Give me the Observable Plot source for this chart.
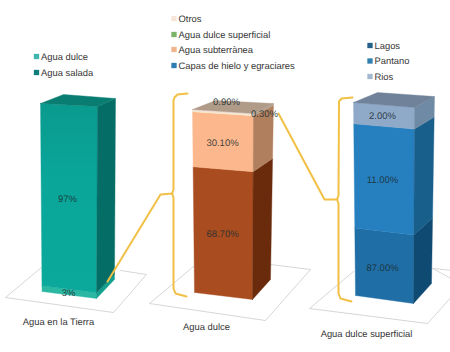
<!DOCTYPE html>
<html><head><meta charset="utf-8">
<style>html,body{margin:0;padding:0;background:#fff}svg{display:block}text{text-rendering:geometricPrecision}</style>
<script src="https://cdn.jsdelivr.net/npm/d3@7"></script>
<script src="https://cdn.jsdelivr.net/npm/@observablehq/plot@0.6"></script>
</head><body><script>
// ---- chart values (bottom segment first)
const tierraLabels = ["3%", "97%"];
const tierraValues = [3, 97];
const tierraLegend = ["Agua dulce", "Agua salada"];
const dulceLabels = ["68.70%", "30.10%", "0.30%", "0.90%"];
const dulceValues = [68.7, 30.1, 0.3, 0.9];
const dulceLegend = ["Otros", "Agua dulce superficial", "Agua subterrànea", "Capas de hielo y egraciares"];
const superficialLabels = ["87.00%", "11.00%", "2.00%"];
const superficialHeights = [35, 54, 11]; // segment heights as drawn in the picture
const superficialLegend = ["Lagos", "Pantano", "Rios"];
const categories = ["Agua en la Tierra", "Agua dulce", "Agua dulce superficial"];

// ---- styles and layout (scene units = picture pixels)
const C = {
  tierra: {front:["#2bb8a3","url(#tealFront)"], side:["#13a08e","#046e66"], top:"#0a7d72", legend:["#3fb5ad","#0f7d7a"]},
  dulce: {front:["#a94c20","#fcb88c","#f5f0c8","#f3e3d6"], side:["#6a2a0c","#b07f5d","#b5a283","#b3a08e"], top:"#b09a88",
          legend:["#f7e5da","#7db36b","#f0b48e","#2f7cb0"]},
  sup: {front:["#1f6ea6","#2680c0","#8fa9c8"], side:["#0e4a72","#195f8c","#6f8aa4"], top:"#6f8299", legend:["#24618a","#2f7fb0","#a3b8cf"]}
};
const bars = [
  {v:tierraValues, c:C.tierra, fl:[[40,103],[41.5,291]], fr:[[97,106],[96,298]], br:[[115,98],[114,279]], bl:[63,94]},
  {v:dulceValues, c:C.dulce, fl:[[192,109],[194,292]], fr:[[253,113],[252,299]], br:[[273,103],[270,279]], bl:[215,100]},
  {v:superficialHeights, c:C.sup, fl:[[353,102],[355,295]], fr:[[414,107],[413,303]], br:[[434,96],[431,283]], bl:[377,92]}
];
const mix = (e, t) => ({x: e[1][0] + (e[0][0]-e[1][0])*t, y: e[1][1] + (e[0][1]-e[1][1])*t});
const faceMark = (pts, color) => Plot.line([...pts, pts[0]], {x:"x", y:"y", fill:color, stroke:color, strokeWidth:0.4, curve:"linear"});

const marks = [];
// floors
const floors = [
  [[41,267],[5,297],[113,312],[146,274],[120,270]],
  [[193,266],[149,303],[265,320],[310,269],[270,264]],
  [[353,271],[309,308],[427,323],[462,284],[432,268],[462,271]]
];
floors.forEach(f => marks.push(Plot.line(f.map(([x,y]) => ({x,y})), {x:"x", y:"y", stroke:"#c4c4c4", strokeWidth:0.7})));

// stacked 3D bars computed from values
bars.forEach(b => {
  const total = d3.sum(b.v);
  const cum = d3.cumsum(b.v).map(d => d/total);
  b.v.forEach((d,i) => {
    const t0 = i ? cum[i-1] : 0, t1 = cum[i];
    marks.push(faceMark([mix(b.fl,t0),mix(b.fr,t0),mix(b.fr,t1),mix(b.fl,t1)], b.c.front[i]));
    marks.push(faceMark([mix(b.fr,t0),mix(b.br,t0),mix(b.br,t1),mix(b.fr,t1)], b.c.side[i]));
  });
  marks.push(faceMark([mix(b.fl,1),mix(b.fr,1),mix(b.br,1),{x:b.bl[0],y:b.bl[1]}], b.c.top));
});

// yellow connectors and braces
const yellow = [
  [[107,281],[160,194],[172,193]],
  [[187,93],[177,94],[174,97],[173,100],[173,189],[171.5,193],[173,197],[173,288],[175,293],[186,296]],
  [[278,113],[324,199],[337,199]],
  [[352,97],[341,98],[338.5,101],[338,195],[336.5,199],[338,203],[338,293],[340,298],[351,301]]
];
yellow.forEach(l => marks.push(Plot.line(l.map(([x,y]) => ({x,y})), {x:"x", y:"y", stroke:"#f1c045", strokeWidth:2})));

// data labels
const lab = (labels, pos) => labels.map((text,i) => ({text, x:pos[i][0], y:pos[i][1]}));
const dataLabels = [
  ...lab(tierraLabels, [[68,292],[67,198]]),
  ...lab(dulceLabels, [[222,233],[222,142],[264,113],[226,101]]),
  ...lab(superficialLabels, [[382,267],[382,179],[382,115]])
];
marks.push(Plot.text(dataLabels, {x:"x", y:"y", text:"text", fontSize:9.5, fill:"#1d2f33", fillOpacity:0.9}));

// legends
const legend = (names, colors, x, ys) => names.map((text,i) => ({text, color:colors[i], x, y:ys[i]}));
const legendRows = [
  ...legend(tierraLegend, C.tierra.legend, 36, [56,72]),
  ...legend(dulceLegend, C.dulce.legend, 173.5, [18,34,49,65]),
  ...legend(superficialLegend, C.sup.legend, 369.5, [45,60.5,76])
];
marks.push(Plot.dot(legendRows, {x:"x", y:"y", symbol:"square", r:3, fill:"color"}));
marks.push(Plot.text(legendRows, {x:d => d.x+4.5, y:"y", text:"text", textAnchor:"start", fontSize:9.4, fill:"#363636"}));

// category titles
const catPos = [[58,321],[206,326],[366,333]];
marks.push(Plot.text(categories.map((text,i) => ({text, x:catPos[i][0], y:catPos[i][1]})), {x:"x", y:"y", text:"text", fontSize:9.4, fill:"#363636"}));

const chart = Plot.plot({
  width:450, height:352, margin:0,
  style:{fontFamily:"'Liberation Sans',Arial,sans-serif", background:"#fff"},
  x:{domain:[0,450], range:[0,450], axis:null},
  y:{domain:[0,352], range:[0,352], axis:null},
  marks
});
// vertical gradient used by the tall teal face
const ns = "http://www.w3.org/2000/svg";
const defs = chart.insertBefore(document.createElementNS(ns,"defs"), chart.firstChild);
const grad = defs.appendChild(document.createElementNS(ns,"linearGradient"));
grad.setAttribute("id","tealFront"); grad.setAttribute("x1","0"); grad.setAttribute("y1","0"); grad.setAttribute("x2","0"); grad.setAttribute("y2","1");
[["0","#0a9a8e"],["0.4","#0aa69a"],["1","#0aa99c"]].forEach(([o,c]) => {
  const s = grad.appendChild(document.createElementNS(ns,"stop"));
  s.setAttribute("offset",o); s.setAttribute("stop-color",c);
});
document.body.append(chart);
</script></body></html>
